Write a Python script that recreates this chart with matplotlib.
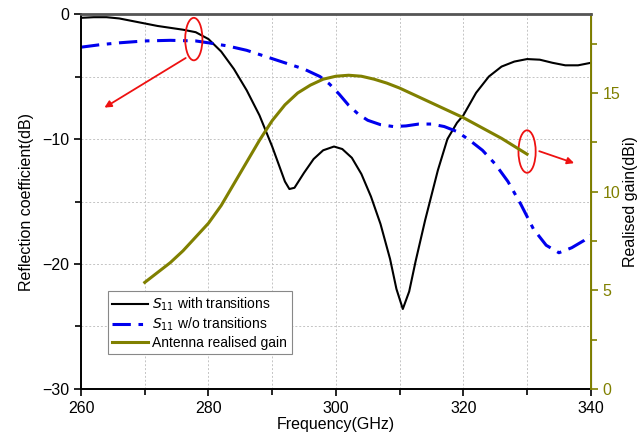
import matplotlib
matplotlib.use("Agg")
import matplotlib.pyplot as plt
from matplotlib.patches import Ellipse
from matplotlib.ticker import MultipleLocator

plt.rcParams['font.family'] = ['Liberation Sans', 'DejaVu Sans']

# S11 with transitions
f_with = [260, 262, 264, 266, 268, 270, 272, 274, 276, 278, 280, 282, 284, 286, 288,
          290, 291, 292, 292.7, 293.5, 295, 296.5, 298, 299.7, 301, 302.5, 304, 305.5,
          307, 308.5, 309.5, 310.5, 311.5, 312.5, 314, 316, 317.5, 319, 320, 322, 324,
          326, 328, 330, 332, 334, 336, 338, 340]
s_with = [-0.3, -0.25, -0.25, -0.35, -0.55, -0.75, -0.95, -1.1, -1.25, -1.45, -2.0, -3.0,
          -4.4, -6.1, -8.1, -10.6, -12.0, -13.4, -14.0, -13.9, -12.7, -11.6, -10.9, -10.6,
          -10.8, -11.5, -12.8, -14.6, -16.8, -19.6, -22.0, -23.6, -22.2, -19.8, -16.5,
          -12.5, -10.0, -8.7, -8.1, -6.3, -5.0, -4.2, -3.8, -3.6, -3.65, -3.9, -4.1, -4.1, -3.9]

# S11 without transitions
f_wo = [260, 263, 266, 270, 274, 278, 280, 283, 286, 289, 292, 295, 297.5, 299, 300.5,
        302, 303.5, 305, 307, 309, 311, 313, 315, 317, 319, 321, 323, 325, 327, 329, 331,
        333, 335, 337, 339, 340]
s_wo = [-2.65, -2.45, -2.3, -2.15, -2.1, -2.15, -2.3, -2.55, -2.9, -3.4, -3.9, -4.4, -5.0,
        -5.6, -6.4, -7.3, -8.0, -8.5, -8.85, -9.0, -8.95, -8.8, -8.8, -9.0, -9.4, -10.1,
        -10.9, -12.0, -13.4, -15.2, -17.2, -18.5, -19.1, -18.7, -18.1, -17.7]

# Antenna realised gain
f_gain = [270, 272, 274, 276, 278, 280, 282, 284, 286, 288, 290, 292, 294, 296, 298, 300,
          302, 304, 306, 308, 310, 312, 314, 316, 318, 320, 322, 324, 326, 328, 330]
gain = [5.4, 5.9, 6.4, 7.0, 7.7, 8.4, 9.3, 10.4, 11.5, 12.6, 13.6, 14.4, 15.0, 15.4, 15.7,
        15.85, 15.9, 15.85, 15.7, 15.5, 15.25, 14.95, 14.65, 14.35, 14.05, 13.75, 13.4,
        13.05, 12.7, 12.3, 11.9]

olive = '#808000'

fig = plt.figure(figsize=(6.38, 4.4), dpi=100)
ax = fig.add_axes([0.127, 0.116, 0.799, 0.852])
ax2 = ax.twinx()

l1, = ax.plot(f_with, s_with, color='black', lw=1.5, label=r'$S_{11}$ with transitions')
l2, = ax.plot(f_wo, s_wo, color='#0000ee', lw=2.2, ls=(0, (6, 2.5, 1.5, 2.5)),
              label=r'$S_{11}$ w/o transitions')
l3, = ax2.plot(f_gain, gain, color=olive, lw=2.2, label='Antenna realised gain')

ax.set_xlim(260, 340)
ax.set_ylim(-30, 0)
ax2.set_ylim(0, 19)

ax.xaxis.set_major_locator(MultipleLocator(20))
ax.xaxis.set_minor_locator(MultipleLocator(10))
ax.yaxis.set_major_locator(MultipleLocator(10))
ax.yaxis.set_minor_locator(MultipleLocator(5))
ax2.yaxis.set_major_locator(MultipleLocator(5))
ax2.yaxis.set_minor_locator(MultipleLocator(2.5))

ax.grid(True, which='both', ls=(0, (2, 2)), color='#c4c4c4', lw=0.7)
ax.set_axisbelow(True)

ax.tick_params(which='both', direction='out', labelsize=11.5, width=1.2)
ax.tick_params(which='major', length=5)
ax.tick_params(which='minor', length=4)
ax2.tick_params(which='both', direction='out', colors=olive, labelsize=11.5, width=1.2)
ax2.tick_params(which='major', length=5)
ax2.tick_params(which='minor', length=4)

for s in ['left', 'bottom']:
    ax.spines[s].set_linewidth(1.4)
ax2.spines['top'].set_color('#555555')
ax2.spines['top'].set_linewidth(2)
ax2.spines['right'].set_color(olive)
ax2.spines['right'].set_linewidth(1.4)
ax2.spines['left'].set_visible(False)
ax2.spines['bottom'].set_visible(False)

ax.set_xlabel('Frequency(GHz)', fontsize=11.5, labelpad=1)
ax.set_ylabel('Reflection coefficient(dB)', fontsize=11.5, labelpad=6)
ax2.set_ylabel('Realised gain(dBi)', fontsize=11.5, labelpad=2)

leg = ax.legend(handles=[l1, l2, l3], loc='lower left', bbox_to_anchor=(0.053, 0.093),
                fontsize=10, fancybox=False, edgecolor='#888888', framealpha=1,
                handlelength=2.6, borderpad=0.3, labelspacing=0.2, handletextpad=0.3,
                borderaxespad=0)
leg.get_frame().set_linewidth(0.8)

# annotations
ax.add_patch(Ellipse((277.7, -2.0), 2.7, 3.4, fill=False, edgecolor='#ee1111', lw=1.3, zorder=5))
ax.annotate('', xy=(263.3, -7.6), xytext=(276.8, -3.4),
            arrowprops=dict(arrowstyle='-|>', color='#ee1111', lw=1.3, mutation_scale=10))
ax.add_patch(Ellipse((330.0, -11.0), 2.7, 3.4, fill=False, edgecolor='#ee1111', lw=1.3, zorder=5))
ax.annotate('', xy=(337.8, -12.0), xytext=(331.5, -10.9),
            arrowprops=dict(arrowstyle='-|>', color='#ee1111', lw=1.3, mutation_scale=10))

fig.savefig('out.png', dpi=100)
